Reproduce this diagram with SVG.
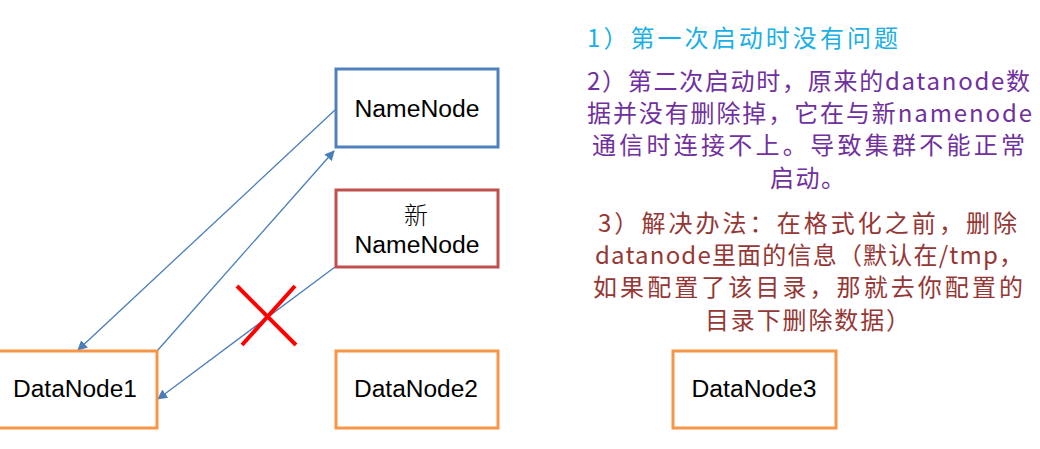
<svg xmlns="http://www.w3.org/2000/svg" width="1040" height="449" viewBox="0 0 1040 449">
<defs>
<style>
.box{fill:#fff;stroke-width:3}
.blue{stroke:#4F81BD}
.red{stroke:#C0504D}
.orange{stroke:#F79646}
.lbl{font-family:"Liberation Sans","Noto Sans CJK SC",sans-serif;font-size:23px;fill:#000;text-anchor:middle}
.conn{stroke:#4A7EBB;stroke-width:1.3;fill:none;marker-end:url(#ah)}
.note{font-family:"Noto Sans CJK SC","Noto Sans",sans-serif;font-size:24px}
.c1{fill:#1AAFE6}
.c2{fill:#7030A0}
.c3{fill:#953735}
</style>
<marker id="ah" viewBox="0 0 10 10" refX="9" refY="5" markerWidth="10" markerHeight="10" markerUnits="userSpaceOnUse" orient="auto">
<path d="M0,0 L10,5 L0,10 z" fill="#4A7EBB"/>
</marker>
</defs>
<rect width="1040" height="449" fill="#fff"/>
<g id="connectors">
<line class="conn" x1="335" y1="110" x2="78" y2="350"/>
<line class="conn" x1="157" y1="351" x2="334" y2="151"/>
<line class="conn" x1="335" y1="267" x2="158" y2="399"/>
</g>
<g id="namenode">
<rect class="box blue" x="336" y="69" width="162" height="78"/>
<text class="lbl" x="417" y="117" textLength="125" lengthAdjust="spacingAndGlyphs">NameNode</text>
</g>
<g id="new-namenode">
<rect class="box red" x="336" y="190" width="162" height="77"/>
<text class="lbl" x="416" y="224" style="font-family:'Noto Sans CJK SC',sans-serif;font-size:24px;font-weight:300">新</text>
<text class="lbl" x="417" y="253" textLength="125" lengthAdjust="spacingAndGlyphs">NameNode</text>
</g>
<g id="datanode1">
<rect class="box orange" x="-2" y="351" width="159" height="77"/>
<text class="lbl" x="75" y="397" textLength="124" lengthAdjust="spacingAndGlyphs">DataNode1</text>
</g>
<g id="datanode2">
<rect class="box orange" x="336" y="351" width="162" height="77"/>
<text class="lbl" x="416" y="397" textLength="124" lengthAdjust="spacingAndGlyphs">DataNode2</text>
</g>
<g id="datanode3">
<rect class="box orange" x="673" y="351" width="163" height="77"/>
<text class="lbl" x="754" y="397" textLength="125" lengthAdjust="spacingAndGlyphs">DataNode3</text>
</g>
<g id="cross" stroke="#FF0000" stroke-width="4">
<line x1="237" y1="286" x2="296" y2="345"/>
<line x1="295" y1="286" x2="242" y2="345"/>
</g>
<g id="notes">
<text class="note c1" x="587" y="47" textLength="311" lengthAdjust="spacing">1）第一次启动时没有问题</text>
<text class="note c2" x="587" y="90" textLength="443" lengthAdjust="spacing">2）第二次启动时，原来的datanode数</text>
<text class="note c2" x="587" y="122" textLength="445" lengthAdjust="spacing">据并没有删除掉，它在与新namenode</text>
<text class="note c2" x="592" y="154" textLength="433" lengthAdjust="spacing">通信时连接不上。导致集群不能正常</text>
<text class="note c2" x="770" y="187" textLength="75" lengthAdjust="spacing">启动。</text>
<text class="note c3" x="598" y="232" textLength="419" lengthAdjust="spacing">3）解决办法：在格式化之前，删除</text>
<text class="note c3" x="595" y="264" textLength="428" lengthAdjust="spacing">datanode里面的信息（默认在/tmp，</text>
<text class="note c3" x="593" y="296" textLength="430" lengthAdjust="spacing">如果配置了该目录，那就去你配置的</text>
<text class="note c3" x="705" y="329" textLength="205" lengthAdjust="spacing">目录下删除数据）</text>
</g>
</svg>
